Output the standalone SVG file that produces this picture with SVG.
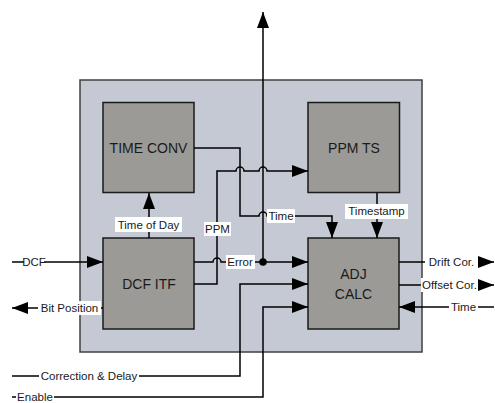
<svg xmlns="http://www.w3.org/2000/svg" width="495" height="403" viewBox="0 0 495 403">
<style>
.outer{fill:#c5c9d4;stroke:#404040;stroke-width:1.5}
.node{fill:#9b9a97;stroke:#1a1a1a;stroke-width:1.5}
.title{font-family:"Liberation Sans",Arial,sans-serif;font-size:14px;fill:#1a1a1a;text-anchor:middle}
.lbl{font-family:"Liberation Sans",Arial,sans-serif;font-size:11.5px;fill:#1a1a1a;text-anchor:middle}
.bg{fill:#ffffff}
.w{fill:none;stroke:#000;stroke-width:1.5}
.a{marker-end:url(#arr)}
</style>
<defs>
<marker id="arr" markerUnits="userSpaceOnUse" markerWidth="16" markerHeight="12" refX="16" refY="6" orient="auto">
<path d="M0,0 L16,6 L0,12 z" fill="#000"/>
</marker>
</defs>
<rect class="outer" x="80" y="80" width="342" height="272"/>
<g id="time-conv"><rect class="node" x="103" y="102.5" width="91" height="90"/><text class="title" x="148.5" y="153">TIME CONV</text></g>
<g id="ppm-ts"><rect class="node" x="308" y="102.5" width="91.5" height="90"/><text class="title" x="354" y="153">PPM TS</text></g>
<g id="dcf-itf"><rect class="node" x="103" y="238" width="91" height="91"/><text class="title" x="149" y="289">DCF ITF</text></g>
<g id="adj-calc"><rect class="node" x="308" y="238" width="91" height="91"/><text class="title" x="353.5" y="279">ADJ</text><text class="title" x="353.5" y="299">CALC</text></g>
<g id="connectors">
<path class="w a" d="M263,262 V12"/>
<path class="w a" d="M194,262 H213 a4,4 0 0 1 8,0 H308"/>
<path class="w a" d="M194,284 H217 V171 H236 a4,4 0 0 1 8,0 H259 a4,4 0 0 1 8,0 H308"/>
<path class="w a" d="M194,148 H240 V216 H259 a4,4 0 0 1 8,0 H332 V238"/>
<path class="w a" d="M377,193 V238"/>
<path class="w a" d="M149,238 V193"/>
<path class="w a" d="M12,262 H103"/>
<path class="w a" d="M103,308 H12"/>
<path class="w a" d="M12,376 H240 V284 H308"/>
<path class="w a" d="M12,397 H263 V307 H308"/>
<path class="w a" d="M399,262 H494"/>
<path class="w a" d="M399,285 H494"/>
<path class="w a" d="M494,307 H399"/>
<circle cx="263" cy="262" r="3.8" fill="#000"/>
</g>
<g id="labels">
<rect class="bg" x="24" y="255" width="20" height="14"/><text class="lbl" x="34" y="266">DCF</text>
<rect class="bg" x="38" y="301" width="63" height="14"/><text class="lbl" x="69.5" y="312">Bit Position</text>
<rect class="bg" x="39" y="369" width="100" height="14"/><text class="lbl" x="89" y="380">Correction &amp; Delay</text>
<rect class="bg" x="16" y="390" width="38" height="14"/><text class="lbl" x="35" y="401">Enable</text>
<rect class="bg" x="425" y="255" width="53" height="14"/><text class="lbl" x="451.5" y="266">Drift Cor.</text>
<rect class="bg" x="421" y="278" width="57" height="14"/><text class="lbl" x="449.5" y="289">Offset Cor.</text>
<rect class="bg" x="449" y="300" width="29" height="14"/><text class="lbl" x="463.5" y="311">Time</text>
<rect class="bg" x="115" y="217" width="67" height="15"/><text class="lbl" x="148.5" y="229">Time of Day</text>
<rect class="bg" x="204" y="222" width="27" height="14"/><text class="lbl" x="217.5" y="233">PPM</text>
<rect class="bg" x="267" y="209" width="28" height="14"/><text class="lbl" x="281" y="220">Time</text>
<rect class="bg" x="345" y="204" width="63" height="15"/><text class="lbl" x="376.5" y="215">Timestamp</text>
<rect class="bg" x="226" y="255" width="29" height="14"/><text class="lbl" x="240" y="266">Error</text>
</g>
</svg>
